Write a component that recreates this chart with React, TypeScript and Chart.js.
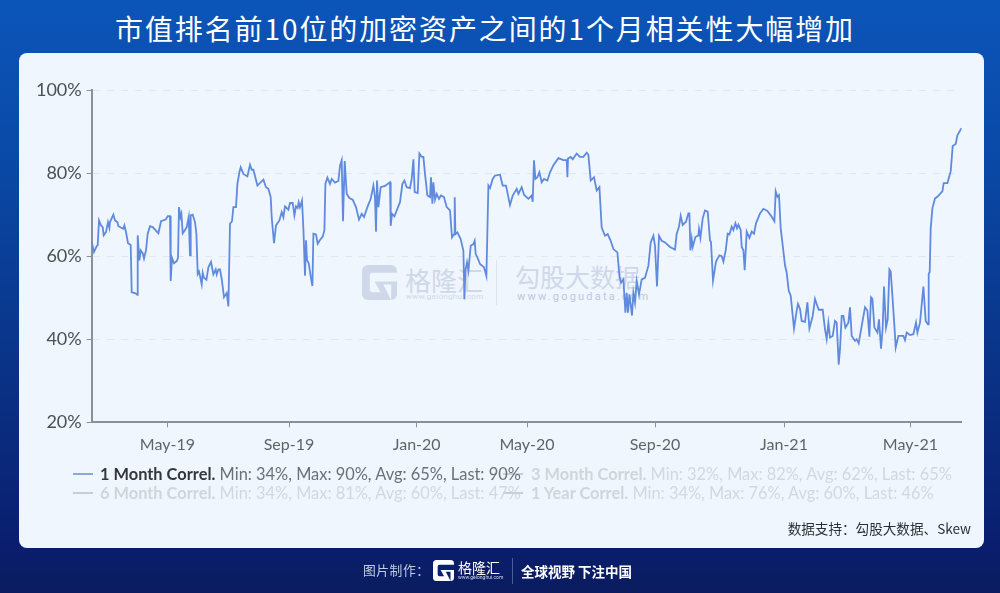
import React, { useEffect, useRef } from "react";
import { Chart, registerables } from "chart.js";

Chart.register(...registerables);

const TITLE = "市值排名前10位的加密资产之间的1个月相关性大幅增加";

// x = days from the left edge of the axis
const days = [
  0, 2.3, 5, 6, 7.3, 9.3, 11, 12, 14.3, 16.3, 17.7, 18.3, 21.7, 23.3, 25.7, 26.7, 31.7, 32.7, 34.3, 36.3,
  39, 40, 43.3, 45.7, 46, 47.7, 49, 51, 52.3, 54.3, 56, 58.3, 61, 66.7, 69.3, 74, 76, 78.3, 79, 80.3,
  82.3, 85, 86.3, 87.3, 88.7, 89.7, 91, 93.3, 95, 97, 98.3, 99, 101, 103.3, 104.7, 106, 107.3, 108.7, 110, 111,
  112.3, 114.7, 116.7, 119.3, 121.7, 124, 125, 126.7, 128.3, 130, 132.3, 135, 136.7, 138.3, 140.3, 141.7, 144.3, 145.7, 147.7, 149,
  151.7, 155.7, 158.3, 160, 161.7, 165.7, 171.7, 174.3, 176.7, 179, 180, 182.3, 184.3, 187.7, 190, 191.7, 193.3, 196.7, 198.3, 201,
  202.7, 204.3, 206, 207, 208.3, 210.3, 211.7, 213.3, 214.3, 215.3, 217, 219, 220.7, 221.7, 224.3, 226, 228.3, 231, 232.7, 233.7,
  235.7, 238.3, 240, 243.3, 246.7, 248.3, 250, 251.3, 253, 255, 257.7, 261, 264.3, 267.3, 270, 272.3, 275.7, 279, 281.7, 283.3,
  284.3, 285.3, 286.7, 289, 293.3, 298.3, 299, 300.3, 302.7, 305, 308.3, 310.7, 312.7, 315, 318.3, 320, 321.7, 323, 326, 327.7,
  330, 331.7, 333.3, 335.7, 338.3, 339.3, 340.7, 341.7, 343.3, 345, 347.3, 349.3, 352.3, 355, 358.3, 360.3, 362.3, 363, 363.7, 365.7,
  369, 371.7, 372.7, 373.7, 375.3, 376.7, 379, 381.7, 383, 384, 385.7, 388.3, 392.3, 394.7, 396.7, 398.3, 401, 403.3, 408.3, 411,
  414.3, 416, 418.3, 421, 425, 426.7, 430, 432.3, 436.7, 440, 441, 442.3, 443.7, 445.7, 447.7, 450, 452.3, 455.7, 458.3, 461.7,
  466.7, 471.7, 475, 475.7, 476.3, 479, 481, 485, 488.3, 491.7, 495, 496.7, 499, 502.3, 505, 507.7, 510, 513.3, 516, 519,
  521.7, 525.7, 527.7, 529.3, 531.7, 533.7, 535, 536.3, 537.7, 540.3, 541.7, 543.3, 545, 547.3, 550, 553.3, 556.7, 559, 561.7, 563.3,
  565.3, 567.3, 570, 573.3, 578.3, 583.3, 585, 587.3, 589, 591, 594.3, 596.7, 597.7, 598.7, 600, 601, 603.7, 606.7, 607.3, 608.7,
  611, 613.3, 616, 618.3, 619.3, 621.3, 624.3, 627.7, 630, 631.7, 634, 636, 637.7, 640, 641.7, 643.7, 645.3, 646.7, 649, 650,
  651.7, 653, 655, 657.7, 660, 662.3, 664.3, 668.3, 671.7, 675.7, 680, 682.7, 684, 685.7, 687.3, 689, 691, 693.3, 695, 697,
  699, 702.3, 705, 706.3, 708.3, 710, 713.3, 715.7, 717.7, 721, 723.3, 725, 727, 731, 733.3, 735, 736.7, 738.3, 741, 743.3,
  745, 747, 748.3, 750, 751.7, 753.7, 756.7, 758.3, 760, 763.3, 765, 767, 770, 773.3, 775.7, 777.7, 779.3, 780.7, 782.7, 785.7,
  787.3, 789.3, 791, 792.3, 794.3, 796, 797.7, 799, 800.7, 802.7, 804, 806.7, 811.7, 813.3, 815, 818.3, 821.7, 824.3, 825.7, 828.3,
  831.7, 834, 836.3, 837, 838, 839, 840.7, 843.3, 845.7, 850.7, 852, 855.7, 859, 861, 864, 865.7, 869.7,
];

const oneMonthCorrel = [
  63.4, 61, 62.4, 62.6, 68.6, 67.4, 67, 65, 65.8, 68.2, 66.8, 68.2, 70, 68.6, 68.2, 67.2, 66.6, 67.4, 65.8, 63.1,
  62.7, 51.3, 51.1, 50.7, 65, 59, 61.4, 60.7, 59.4, 61.4, 65.4, 67.2, 67, 65.5, 68.4, 68.8, 69.6, 69.6, 54, 59.6,
  58.3, 58.8, 59.6, 71.8, 69.4, 70.2, 65.5, 66.3, 67, 69.4, 60.2, 69.8, 70, 68.2, 65.4, 55.7, 56.3, 54.8, 53.2, 56,
  54.8, 54.3, 57.3, 58.6, 55.6, 56.8, 55.6, 56.8, 56.8, 54.5, 50.1, 51.1, 47.9, 67.8, 68.4, 71.8, 71.8, 77.4, 80.2, 81.4,
  79.8, 79.2, 82, 80.8, 80.8, 77, 78.4, 76.6, 76.2, 74.2, 69.4, 63.1, 67.4, 68.6, 70.6, 69.4, 72, 71.2, 72.8, 72.8,
  69.8, 72, 71.6, 73, 71.8, 73.4, 66.6, 55.3, 63.8, 59, 58.3, 55.1, 52.8, 65.4, 65.2, 63, 63.9, 64.7, 66.2, 77.4,
  78.9, 77.4, 78.6, 77.7, 78.1, 81.8, 83.1, 68.4, 82.9, 75, 74, 73.6, 71.8, 68.8, 70.2, 69.4, 71.8, 73.8, 77, 74.2,
  65.9, 78.2, 71.8, 76.6, 76.9, 77.8, 67.3, 70.2, 69.6, 71, 73, 77.4, 78.2, 76.6, 76.4, 78.6, 83.3, 75.4, 75.2, 84.7,
  83.9, 83.9, 79.8, 74.6, 74.2, 79, 72.6, 77.8, 73.6, 75, 73.8, 74.6, 74.2, 71.8, 71, 64.5, 65.3, 74.2, 65.3, 65.7,
  64.1, 61.3, 49.6, 56.5, 58.5, 56.5, 62.5, 62.9, 63.7, 60.5, 59.7, 58.1, 57.3, 55.2, 77, 76.4, 78.6, 79.4, 79.6, 77,
  77, 75, 72.3, 74.6, 76.2, 75, 76.6, 74.8, 73.8, 74.6, 73.1, 83.1, 78.6, 79, 80.2, 77.8, 78.6, 78.2, 80.2, 81.9,
  83.6, 83.1, 83.1, 79, 83.5, 83.9, 83.3, 84.7, 83.9, 83.9, 84.9, 84.4, 78.2, 79, 75.8, 76.6, 66.9, 64.9, 65.3, 63.7,
  61.7, 60.9, 55.2, 53.6, 54.4, 46.4, 51.2, 46.4, 50.8, 45.7, 51.2, 48.8, 54, 50.8, 54.4, 54.8, 57.7, 63.3, 64.9, 62.5,
  52.7, 64.9, 63.7, 63.3, 62.2, 61.6, 65.4, 67.1, 69.7, 67.5, 68.3, 70.3, 70.3, 61.4, 64.2, 62.2, 64.6, 65, 66.5, 64.4,
  69.1, 71, 70.7, 63.8, 63.4, 54.1, 58.7, 60.2, 60, 58.7, 61.4, 65.4, 65.2, 67.1, 66.3, 67.9, 66.7, 67.6, 66.3, 62.2,
  61.4, 56.6, 65.9, 64.4, 65.9, 65.4, 67.9, 70.3, 71.4, 70.9, 69.5, 68.4, 75.6, 74.3, 74.7, 66.7, 62.6, 57.8, 56, 51.7,
  50.5, 42.6, 46.9, 48.5, 47.3, 44.4, 44.2, 48.9, 42.6, 45.6, 49.7, 48.5, 47.1, 47.1, 42.4, 40, 43.9, 40.4, 40.8, 44.4,
  44, 33.9, 37.6, 45.6, 45.6, 42.8, 44, 47.7, 40.8, 39.6, 40, 39, 43.2, 47.7, 46.9, 40.6, 50.1, 49.7, 42.8, 41.6,
  44.8, 37.7, 42.8, 52.7, 42.8, 44.8, 56.8, 56.3, 50.5, 43.2, 38, 40.8, 40.8, 39.8, 41.6, 41, 41.2, 44, 41.6, 44,
  52.7, 44.4, 43.6, 55.7, 56.2, 66.7, 71.5, 73.9, 74.3, 75.6, 77.6, 77.6, 80.4, 86.5, 87, 89.1, 90.8,
];

const tickDays = [75.7, 197.3, 325, 435.3, 563.3, 692.3, 818.7];
const tickLabels = ["May-19", "Sep-19", "Jan-20", "May-20", "Sep-20", "Jan-21", "May-21"];

const legendNames = ["1 Month Correl.", "3 Month Correl.", "6 Month Correl.", "1 Year Correl."];
const legendStats = [
  "Min: 34%, Max: 90%, Avg: 65%, Last: 90%",
  "Min: 32%, Max: 82%, Avg: 62%, Last: 65%",
  "Min: 34%, Max: 81%, Avg: 60%, Last: 47%",
  "Min: 34%, Max: 76%, Avg: 60%, Last: 46%",
];

const LATO = "Lato, sans-serif";
const CJK = '"Noto Sans CJK SC", sans-serif';

function LogoG({ x, y, size, color, cut }: { x: number; y: number; size: number; color: string; cut: string }) {
  return (
    <svg style={{ position: "absolute", left: x, top: y }} width={size} height={size} viewBox="0 0 36 36">
      <rect x="0" y="0" width="36" height="36" rx="6" fill={color} />
      <path d="M36 8 H11 Q8 8 8 11 V25 Q8 28 11 28 H19 L13 17 H36 V8 Z" fill={cut} />
      <path d="M22 20 H30 V36 Z" fill={cut} />
    </svg>
  );
}

function LegendItem({ i, x, swatchX, y }: { i: number; x: number; swatchX: number; y: number }) {
  const active = i === 0;
  return (
    <>
      <div
        style={{
          position: "absolute",
          left: x,
          top: y - 10,
          height: 20,
          lineHeight: "20px",
          whiteSpace: "nowrap",
          fontFamily: LATO,
          fontSize: 16.4,
          color: active ? "#6c7177" : "#d3d8de",
        }}
      >
        <b style={{ color: active ? "#33373c" : "#d0d5db" }}>{legendNames[i]}</b> {legendStats[i]}
      </div>
      <div
        style={{
          position: "absolute",
          left: swatchX,
          top: y - 1,
          width: 20,
          height: 2,
          background: active ? "#8ea6dc" : "#c9ced4",
        }}
      />
    </>
  );
}

export default function App() {
  const canvasRef = useRef<HTMLCanvasElement | null>(null);

  useEffect(() => {
    document.body.style.margin = "0";
    if (!canvasRef.current) return;
    const gray = "#8b9096";

    const chart = new Chart(canvasRef.current, {
      type: "line",
      data: {
        datasets: [
          {
            label: legendNames[0],
            data: days.map((d, i) => ({ x: d, y: oneMonthCorrel[i] })),
            borderColor: "#5f8ade",
            borderWidth: 1.8,
            pointRadius: 0,
            tension: 0,
          },
        ],
      },
      options: {
        animation: false,
        responsive: true,
        maintainAspectRatio: false,
        layout: { padding: { top: 90, right: 38.3, left: 0, bottom: 0 } },
        plugins: { legend: { display: false }, tooltip: { enabled: false } },
        scales: {
          x: {
            type: "linear",
            min: 0,
            max: 870,
            afterBuildTicks: (scale) => {
              scale.ticks = tickDays.map((v) => ({ value: v }));
            },
            afterFit: (scale) => {
              scale.height = 170.7;
            },
            grid: { drawOnChartArea: false, tickColor: gray, tickLength: 5 },
            border: { color: gray, width: 2 },
            ticks: {
              autoSkip: false,
              maxRotation: 0,
              padding: 8,
              color: "#5f6469",
              font: { family: LATO, size: 16 },
              callback: (value) => tickLabels[tickDays.indexOf(Number(value))],
            },
          },
          y: {
            min: 20,
            max: 100,
            afterFit: (scale) => {
              scale.width = 91.7;
            },
            grid: {
              color: "#e0e7ef",
              tickColor: gray,
              tickBorderDash: [],
              tickLength: 5,
            },
            border: { color: gray, width: 2, dash: [7, 7] },
            ticks: {
              stepSize: 20,
              padding: 5,
              color: "#4c5055",
              font: { family: LATO, size: 18 },
              callback: (value) => `${value}%`,
            },
          },
        },
      },
    });

    return () => chart.destroy();
  }, []);

  return (
    <div
      style={{
        position: "relative",
        width: 1000,
        height: 593,
        overflow: "hidden",
        background: "linear-gradient(180deg, #0c55b9 0%, #0a4aa8 25%, #0a3488 60%, #0a1e6e 92%, #0a1c5e 100%)",
      }}
    >
      <div
        style={{
          position: "absolute",
          left: 115,
          top: 8,
          whiteSpace: "nowrap",
          fontFamily: CJK,
          fontSize: 28,
          lineHeight: "40px",
          letterSpacing: 1.9,
          color: "#ffffff",
        }}
      >
        {TITLE}
      </div>

      {/* card */}
      <div style={{ position: "absolute", left: 19, top: 53, width: 965, height: 495, borderRadius: 8, background: "#eff6fe" }} />

      {/* watermarks */}
      <LogoG x={362} y={265} size={35} color="#cfd8e8" cut="#eff6fe" />
      <div style={{ position: "absolute", left: 405, top: 262, fontFamily: CJK, fontSize: 26, lineHeight: "36px", color: "#cfd8e8", whiteSpace: "nowrap" }}>格隆汇</div>
      <div style={{ position: "absolute", left: 406, top: 292, fontFamily: "Roboto, sans-serif", fontSize: 8, lineHeight: "10px", letterSpacing: 0.3, color: "#cfd8e8", whiteSpace: "nowrap" }}>www.gelonghui.com</div>
      <div style={{ position: "absolute", left: 496, top: 260, width: 1, height: 45, background: "#dce4ef" }} />
      <div style={{ position: "absolute", left: 515, top: 258, fontFamily: CJK, fontSize: 25, lineHeight: "36px", color: "#cfd8e8", whiteSpace: "nowrap" }}>勾股大数据</div>
      <div style={{ position: "absolute", left: 517, top: 290, fontFamily: "Roboto, sans-serif", fontSize: 11, lineHeight: "14px", letterSpacing: 2.2, color: "#bcc8de", whiteSpace: "nowrap" }}>www.gogudata.com</div>

      {/* chart */}
      <div style={{ position: "absolute", left: 0, top: 0, width: 1000, height: 593 }}>
        <canvas ref={canvasRef} />
      </div>

      {/* legend */}
      <LegendItem i={1} x={531} swatchX={503} y={474} />
      <LegendItem i={3} x={531} swatchX={503} y={493} />
      <LegendItem i={2} x={100} swatchX={73} y={493} />
      <LegendItem i={0} x={100} swatchX={73} y={474} />

      <div style={{ position: "absolute", right: 29, top: 518, fontFamily: CJK, fontSize: 13.6, lineHeight: "20px", color: "#2c3036", whiteSpace: "nowrap" }}>
        数据支持：勾股大数据、Skew
      </div>

      {/* footer */}
      <div style={{ position: "absolute", left: 363, top: 560, fontFamily: CJK, fontSize: 12.8, lineHeight: "20px", letterSpacing: 0.5, color: "#c3cde2", whiteSpace: "nowrap" }}>图片制作：</div>
      <LogoG x={433} y={560} size={21} color="#ffffff" cut="#0a2072" />
      <div style={{ position: "absolute", left: 458, top: 556, fontFamily: CJK, fontSize: 14, lineHeight: "22px", color: "#ffffff", whiteSpace: "nowrap" }}>格隆汇</div>
      <div style={{ position: "absolute", left: 458, top: 574, fontFamily: "Roboto, sans-serif", fontSize: 5, lineHeight: "7px", color: "#d5dcec", whiteSpace: "nowrap" }}>www.gelonghui.com</div>
      <div style={{ position: "absolute", left: 512, top: 558, width: 1, height: 26, background: "#4a5c9c" }} />
      <div style={{ position: "absolute", left: 521, top: 561, fontFamily: CJK, fontWeight: 700, fontSize: 13.5, lineHeight: "20px", color: "#ffffff", whiteSpace: "nowrap" }}>全球视野 下注中国</div>
    </div>
  );
}
